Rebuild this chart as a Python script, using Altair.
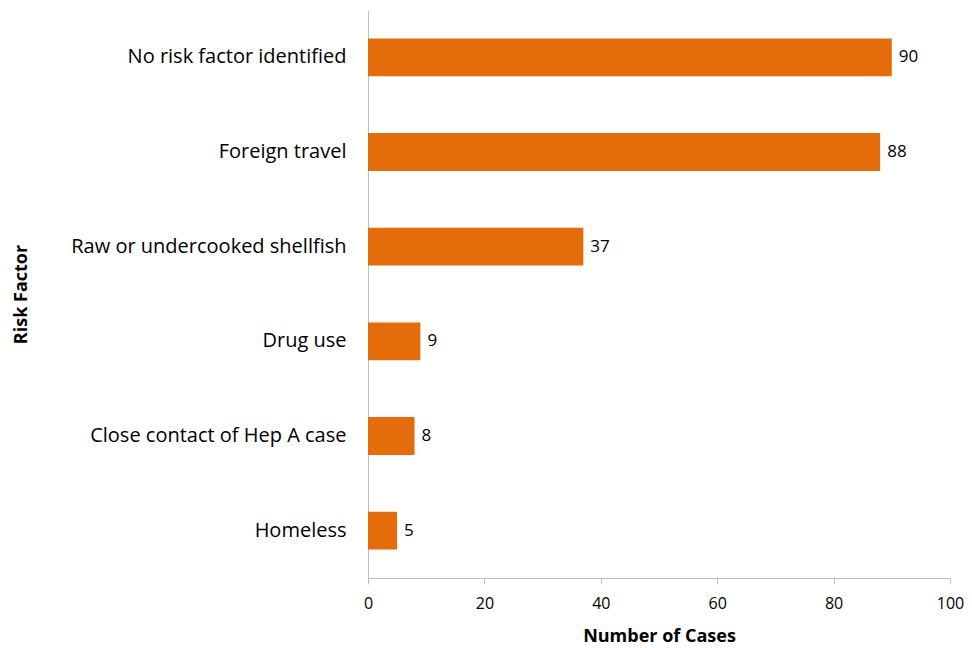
import altair as alt
import pandas as pd

categories = ["No risk factor identified ", "Foreign travel", "Raw or undercooked shellfish",
              "Drug use", "Close contact of Hep A case", "Homeless"]
cases = [90, 88, 37, 9, 8, 5]

df = pd.DataFrame({"factor": categories, "cases": cases})

FONT = "Open Sans"
GREY = "#BFBFBF"

y_enc = alt.Y("factor:N", sort=categories,
              scale=alt.Scale(paddingInner=0.6, paddingOuter=0.3),
              axis=alt.Axis(title="Risk Factor", ticks=False, labelPadding=22,
                            labelFontSize=20, labelColor="#000", labelFont=FONT,
                            titleFontSize=18, titleFont=FONT, titleFontWeight="bold",
                            titleColor="#000", titleX=-347, titleY=284, titleAngle=-90,
                            titleAlign="center", titleBaseline="middle",
                            domainColor=GREY, labelLimit=400))
x_enc = alt.X("cases:Q", scale=alt.Scale(domain=[0, 100]),
              axis=alt.Axis(title="Number of Cases", values=[0, 20, 40, 60, 80, 100],
                            grid=False, tickSize=6, tickColor=GREY, domainColor=GREY,
                            labelFlush=False,
                            labelPadding=11, labelFontSize=16, labelFont=FONT, labelColor="#000",
                            titleFontSize=18, titleFont=FONT, titleFontWeight="bold",
                            titleColor="#000", titlePadding=16))

bars = alt.Chart(df).mark_bar(color="#E46C0A").encode(x=x_enc, y=y_enc)
labels = alt.Chart(df).mark_text(align="left", dx=7, fontSize=17, font=FONT, color="#000").encode(
    x="cases:Q", y=alt.Y("factor:N", sort=categories), text="cases:Q")

chart = (bars + labels).properties(
    width=582, height=568,
    autosize=alt.AutoSizeParams(type="none"),
    padding={"left": 360, "top": 2, "right": 14, "bottom": 70},
).configure_view(stroke=None)

chart.save("out.html", embed_options={"renderer": "svg", "actions": False})
